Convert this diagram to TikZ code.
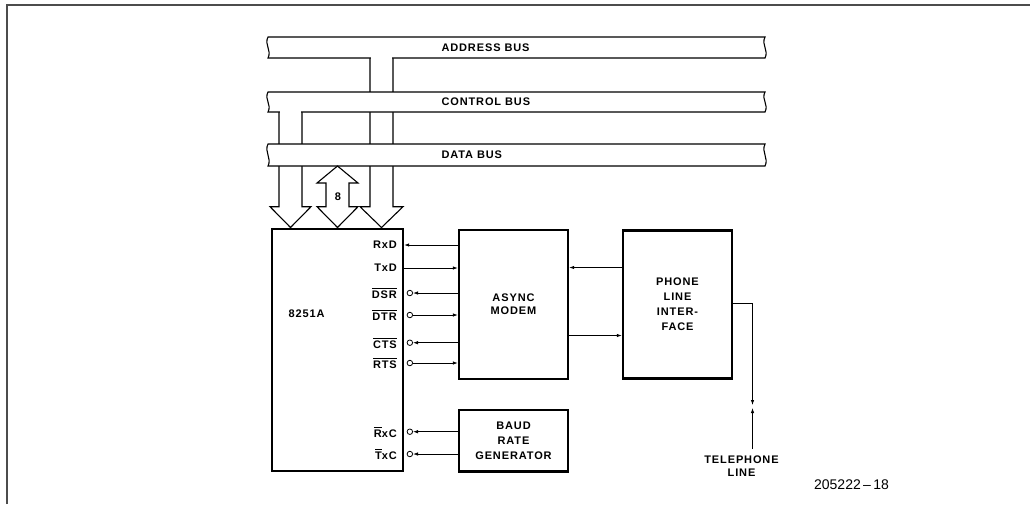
\documentclass[tikz,border=0pt]{standalone}
\usepackage{fontspec}
\setmainfont[LetterSpace=8]{Liberation Sans}
\newfontfamily\plainfont{Liberation Sans}
\usetikzlibrary{arrows.meta}

\newcommand*{\busleft}{268}
\newcommand*{\busright}{765}
\newcommand*{\pinbar}[1]{$\overline{\mbox{#1}\rule{0pt}{9pt}}$}

\begin{document}
\begin{tikzpicture}
[
	x=1pt,
	y=-1pt,
	every node/.style={font=\bfseries\fontsize{11}{15}\selectfont},
	block/.style={draw,line width=2.4pt,inner sep=0pt,align=center},
	bus/.style={draw,fill=white,line width=1.1pt},
	sig/.style={line width=0.8pt},
	sigto/.style={sig,-{Latex[length=5pt,width=3.5pt]}},
	bubble/.style={circle,draw,line width=0.8pt,fill=white,inner sep=0pt,minimum size=5.5pt},
	pin/.style={anchor=east,inner sep=0pt}
]
	\useasboundingbox (0,0) rectangle (1030,504);

	% frame
	\draw[line width=1.4pt,black!70] (7,504) -- (7,5) -- (1030,5);

	% channels from address and control bus
	\draw[bus] (370,58) -- (370,206.7) -- (360,206.7) -- (381.5,227.5) -- (403,206.7) -- (393,206.7) -- (393,58);
	\draw[bus] (279,112) -- (279,206.7) -- (270,206.7) -- (290.5,227.5) -- (311,206.7) -- (302,206.7) -- (302,112);

	% buses
	\foreach \ya/\yb/\busname/\buslabel in {37/58/address/ADDRESS BUS,92/112/control/CONTROL BUS,144/166/data/DATA BUS} {
		\draw[bus] (\busleft,\ya) -- (\busright,\ya)
			.. controls (\busright-4,\ya+8) and (\busright+4,\yb-8) .. (\busright,\yb)
			-- (\busleft,\yb)
			.. controls (\busleft+4,\yb-8) and (\busleft-4,\ya+8) .. (\busleft,\ya) -- cycle;
		\node[anchor=west] (\busname) at (438,{(\ya+\yb)/2}) {\buslabel};
	}
	\fill[white] (371,55) rectangle (392,61);
	\fill[white] (280,109) rectangle (301,115);

	% data bus, both ways
	\draw[bus] (326,183) -- (317,183) -- (337.5,166) -- (358,183) -- (349,183) -- (349,206.7)
		-- (358,206.7) -- (337.5,227.5) -- (317,206.7) -- (326,206.7) -- cycle;
	\node (width) at (338,197) {8};

	% blocks
	\node[block,minimum width=131pt,minimum height=242pt] (usart) at (337.5,350) {};
	\node (usartname) at (306.5,314) {8251A};
	\node[block,minimum width=109pt,minimum height=149pt] (modem) at (513.5,304.5) {ASYNC\\[-2pt]MODEM};
	\node[block,minimum width=109pt,minimum height=148pt] (phone) at (677.5,304.5) {PHONE\\LINE\\INTER-\\FACE};
	\node[block,minimum width=109pt,minimum height=61.5pt] (baud) at (513.5,440.75) {BAUD\\RATE\\GENERATOR};

	% pins
	\foreach \pname/\ptext/\py in {rxd/RxD/245,txd/TxD/268,dsr/\pinbar{DSR}/293,dtr/\pinbar{DTR}/315,cts/\pinbar{CTS}/342.7,rts/\pinbar{RTS}/363,rxc/\pinbar{R}xC/431.7,txc/\pinbar{T}xC/454} {
		\node[pin] (\pname) at (397,\py) {\ptext};
	}
	\foreach \pname in {dsr,dtr,cts,rts,rxc,txc} {
		\node[bubble,anchor=west,xshift=2.5pt] (\pname-o) at (usart.east |- \pname) {};
	}

	% 8251A to modem
	\draw[sigto] (modem.west |- rxd) -- (usart.east |- rxd);
	\draw[sigto] (usart.east |- txd) -- (modem.west |- txd);
	\draw[sigto] (modem.west |- dsr) -- (dsr-o);
	\draw[sigto] (dtr-o) -- (modem.west |- dtr);
	\draw[sigto] (modem.west |- cts) -- (cts-o);
	\draw[sigto] (rts-o) -- (modem.west |- rts);

	% clocks
	\draw[sigto] (baud.west |- rxc) -- (rxc-o);
	\draw[sigto] (baud.west |- txc) -- (txc-o);

	% modem to phone line interface
	\draw[sigto] ([yshift=37pt]phone.west) -- ([yshift=37pt]modem.east);
	\draw[sigto] ([yshift=-31pt]modem.east) -- ([yshift=-31pt]phone.west);

	% telephone line
	\coordinate (jack) at (752.5,406.5);
	\coordinate (tel) at (752.5,449);
	\node[align=center,font=\bfseries\fontsize{11}{13}\selectfont] (telline) at (741.5,466.5) {TELEPHONE\\LINE};
	\draw[sigto] ([yshift=1pt]phone.east) -| ([yshift=1.5pt]jack);
	\draw[sigto] (tel) -- ([yshift=-1.5pt]jack);

	\node[font=\plainfont\fontsize{14}{16}\selectfont] (figno) at (851.5,485) {205222\,–\,18};

\end{tikzpicture}
\end{document}
